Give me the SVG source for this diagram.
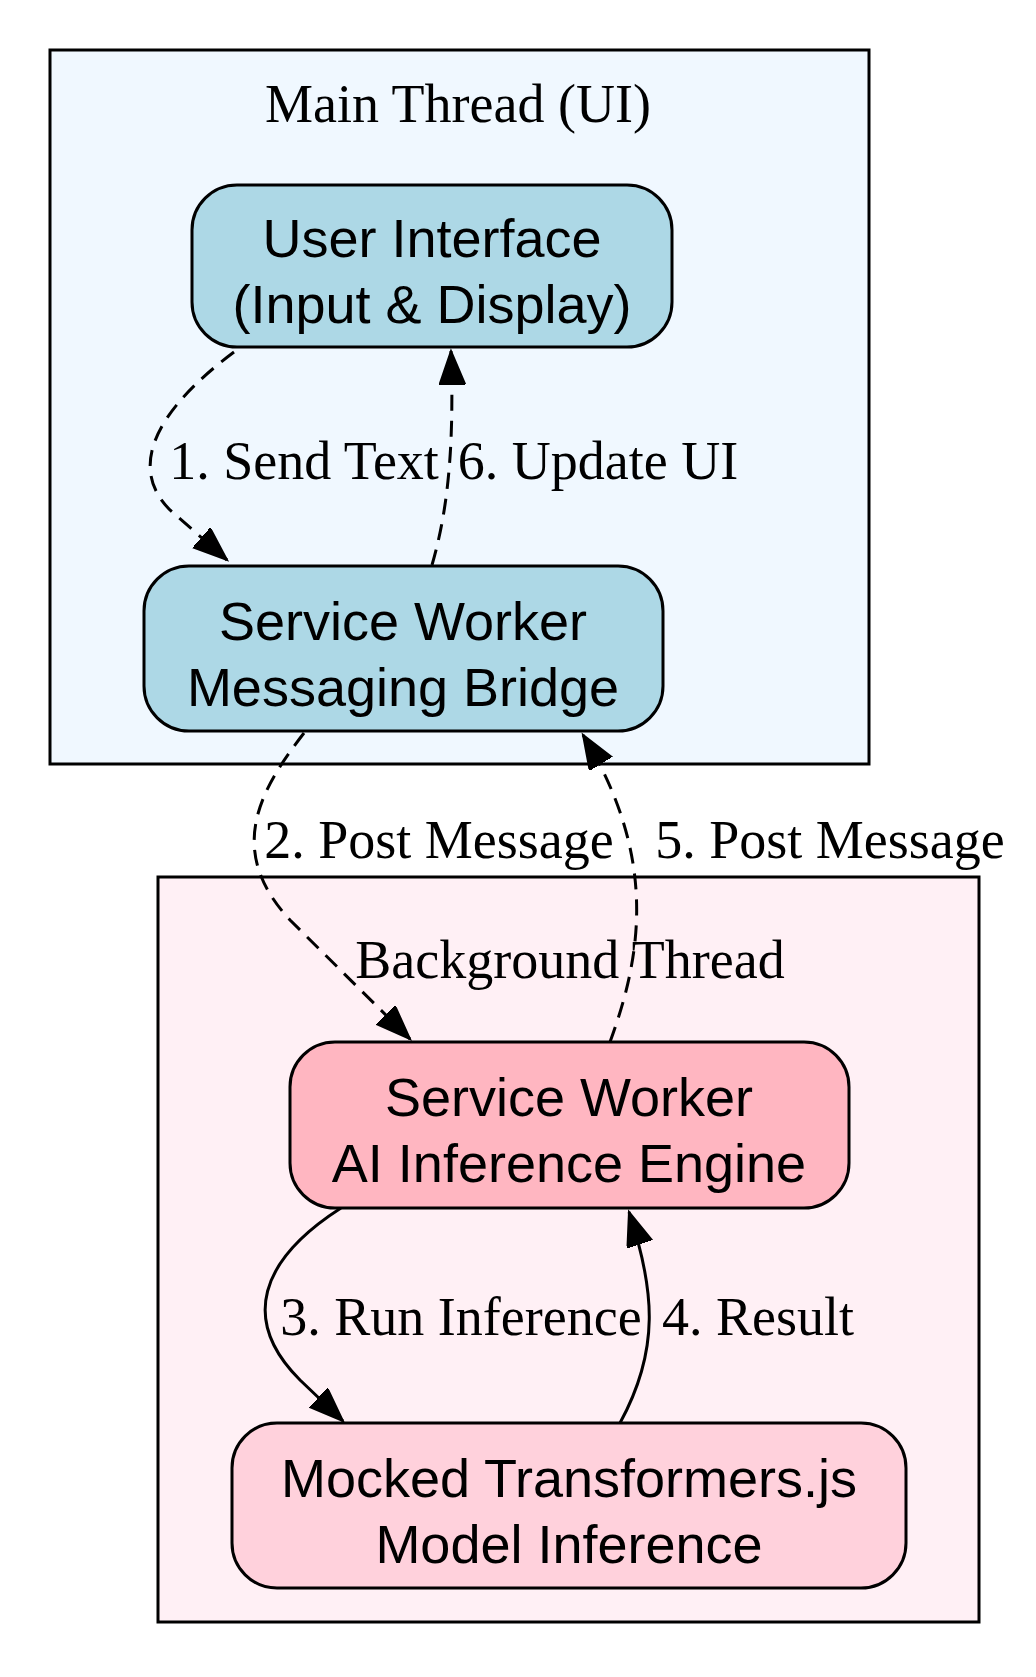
<svg xmlns="http://www.w3.org/2000/svg" width="1036" height="1677" viewBox="0 0 1036 1677">
<style>
.cl{stroke:#000;stroke-width:3}
.nd{stroke:#000;stroke-width:3}
.t{font-family:"Liberation Sans",Arial,sans-serif;font-size:54px;text-anchor:middle;fill:#000}
.s{font-family:"Liberation Serif","Times New Roman",serif;font-size:54px;text-anchor:middle;fill:#000}
.e{fill:none;stroke:#000;stroke-width:3}
.d{stroke-dasharray:16,10}
</style>
<defs>
<marker id="a" markerUnits="userSpaceOnUse" markerWidth="40" markerHeight="30" refX="34" refY="13" orient="auto">
<path d="M0,0 L34,13 L0,26 Z" fill="#000" stroke="#000" stroke-width="2"/>
</marker>
</defs>
<rect width="1036" height="1677" fill="#fff"/>
<g id="cluster_main">
<rect class="cl" x="50" y="50" width="819" height="714" fill="#f0f8ff"/>
<text class="s" x="458" y="122">Main Thread (UI)</text>
</g>
<g id="cluster_bg">
<rect class="cl" x="158" y="877" width="821" height="745" fill="#fff0f5"/>
<text class="s" x="570" y="978">Background Thread</text>
</g>
<g id="connectors">
<path class="e d" d="M234,352 C150,415 130,470 170,510 L227,560" marker-end="url(#a)"/>
<path class="e d" d="M432,565 C445,520 455,460 451,351" marker-end="url(#a)"/>
<path class="e d" d="M304,733 C260,790 225,850 290,920 L410,1039" marker-end="url(#a)"/>
<path class="e d" d="M610,1042 C640,960 660,860 583,735" marker-end="url(#a)"/>
<path class="e" d="M341,1208 C260,1260 240,1320 300,1380 L343,1421" marker-end="url(#a)"/>
<path class="e" d="M620,1423 C660,1350 655,1290 629,1212" marker-end="url(#a)"/>
<text class="s" x="304" y="479">1. Send Text</text>
<text class="s" x="598" y="479">6. Update UI</text>
<text class="s" x="439" y="858">2. Post Message</text>
<text class="s" x="830" y="858">5. Post Message</text>
<text class="s" x="461" y="1335">3. Run Inference</text>
<text class="s" x="758" y="1335">4. Result</text>
</g>
<g id="ui">
<rect class="nd" x="192" y="185" width="480" height="162" rx="45" fill="#add8e6"/>
<text class="t" x="432" y="257">User Interface</text>
<text class="t" x="432" y="323">(Input &amp; Display)</text>
</g>
<g id="bridge">
<rect class="nd" x="144" y="566" width="519" height="165" rx="45" fill="#add8e6"/>
<text class="t" x="403" y="640">Service Worker</text>
<text class="t" x="403" y="706">Messaging Bridge</text>
</g>
<g id="engine">
<rect class="nd" x="290" y="1042" width="559" height="166" rx="45" fill="#ffb6c1"/>
<text class="t" x="569" y="1116">Service Worker</text>
<text class="t" x="569" y="1182">AI Inference Engine</text>
</g>
<g id="mocked">
<rect class="nd" x="232" y="1423" width="674" height="165" rx="45" fill="#ffd1dc"/>
<text class="t" x="569" y="1497">Mocked Transformers.js</text>
<text class="t" x="569" y="1563">Model Inference</text>
</g>
</svg>
